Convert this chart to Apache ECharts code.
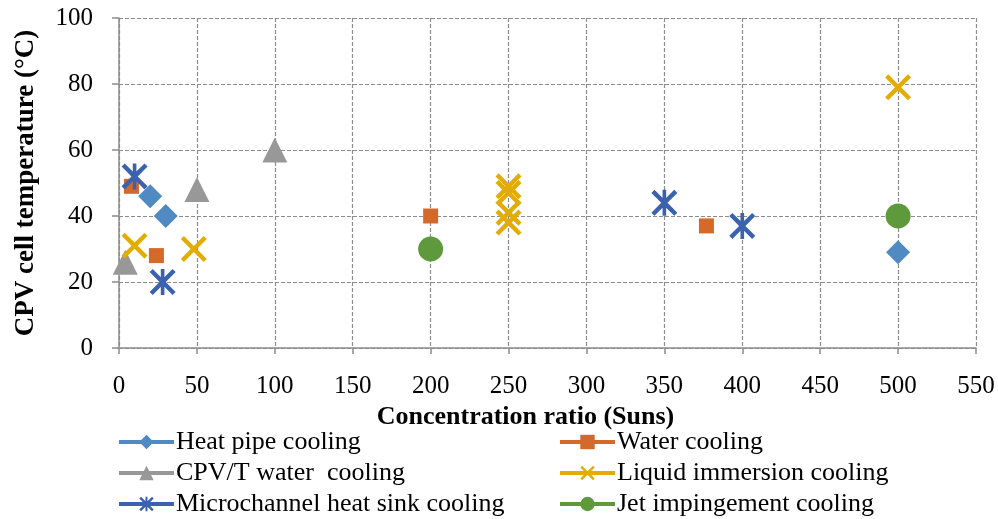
<!DOCTYPE html>
<html>
<head>
<meta charset="utf-8">
<script src="https://cdn.jsdelivr.net/npm/echarts@6/dist/echarts.min.js"></script>
<style>
  html, body { margin: 0; padding: 0; background: #fff; }
  #chart { width: 998px; height: 519px; }
</style>
</head>
<body>
<div id="chart"></div>
<script>
// Concentration ratio (Suns) vs CPV cell temperature (°C), grouped by cooling technique
const seriesNames = [
  'Heat pipe cooling',
  'Water cooling',
  'CPV/T water  cooling',
  'Liquid immersion cooling',
  'Microchannel heat sink cooling',
  'Jet impingement cooling'
];

const heatPipe = [[20, 46], [30, 40], [500, 29]];
const waterCooling = [[8, 49], [24, 28], [200, 40], [377, 37]];
const cpvtWater = [[4, 26], [50, 48], [100, 60]];
const liquidImmersion = [[10, 31], [48, 30], [250, 49], [250, 47], [250, 41], [250, 38], [500, 79]];
const microchannel = [[10, 52], [28, 20], [350, 44], [400, 37]];
const jetImpingement = [[200, 30], [500, 40]];

const xTicks = { min: 0, max: 550, interval: 50 };
const yTicks = { min: 0, max: 100, interval: 20 };

const xTitle = 'Concentration ratio (Suns)';
const yTitle = 'CPV cell temperature (°C)';

// Marker shapes
const crossPath = 'path://M0,12 L12,0 L50,38 L88,0 L100,12 L62,50 L100,88 L88,100 L50,62 L12,100 L0,88 L38,50 Z';
const starPath = 'path://M0,12 L12,0 L50,38 L88,0 L100,12 L62,50 L100,88 L88,100 L50,62 L12,100 L0,88 L38,50 Z M43,0 L57,0 L57,100 L43,100 Z';

const styles = [
  { data: heatPipe, color: '#4F8AC2', symbol: 'diamond', size: 24 },
  { data: waterCooling, color: '#D4692A', symbol: 'rect', size: 15 },
  { data: cpvtWater, color: '#989898', symbol: 'triangle', size: 25 },
  { data: liquidImmersion, color: '#E3AC05', symbol: crossPath, size: 26 },
  { data: microchannel, color: '#3B62AE', symbol: starPath, size: 26 },
  { data: jetImpingement, color: '#5E9A3C', symbol: 'circle', size: 25 }
];

const font = '"Liberation Serif", "Times New Roman", serif';

const series = styles.map((s, i) => ({
  name: seriesNames[i],
  type: 'line',
  data: s.data,
  symbol: s.symbol,
  symbolSize: s.size,
  showSymbol: true,
  showAllSymbol: true,
  color: s.color,
  itemStyle: { color: s.color, borderWidth: 0, opacity: 1 },
  lineStyle: { opacity: 0, width: 3, color: s.color },
  emphasis: { disabled: true },
  z: 3
}));

// Two-column legend, one block per entry
const legendCols = [117, 558];
const legendRows = [429, 460, 491];
const legends = seriesNames.map((name, i) => ({
  data: [name],
  left: legendCols[i % 2],
  top: legendRows[Math.floor(i / 2)],
  itemWidth: 55,
  itemHeight: 18,
  itemGap: 0,
  padding: 0,
  selectedMode: false,
  lineStyle: { opacity: 1, width: 4 },
  textStyle: { fontFamily: font, fontSize: 26, color: '#000', padding: [0, 0, 0, -3] }
}));

const chart = echarts.init(document.getElementById('chart'), null, { renderer: 'canvas' });
chart.setOption({
  animation: false,
  backgroundColor: '#fff',
  grid: { left: 119, right: 22, top: 18, bottom: 171, containLabel: false },
  legend: legends,
  xAxis: {
    type: 'value',
    min: xTicks.min, max: xTicks.max, interval: xTicks.interval,
    name: xTitle,
    nameLocation: 'middle',
    nameGap: 51,
    nameTextStyle: { fontFamily: font, fontSize: 26, fontWeight: 'bold', color: '#000', padding: [0, 44, 0, 0] },
    axisLine: { show: true, onZero: false, lineStyle: { color: '#8c8c8c', width: 1.5 } },
    axisTick: { show: true, length: 6, inside: false, lineStyle: { color: '#8c8c8c', width: 1.5 } },
    axisLabel: { fontFamily: font, fontSize: 25, color: '#000', margin: 26 },
    splitLine: { show: true, lineStyle: { color: '#8c8c8c', type: [4, 2], width: 1.2 } }
  },
  yAxis: {
    type: 'value',
    min: yTicks.min, max: yTicks.max, interval: yTicks.interval,
    name: yTitle,
    nameLocation: 'middle',
    nameGap: 79,
    nameTextStyle: { fontFamily: font, fontSize: 27, fontWeight: 'bold', color: '#000' },
    axisLine: { show: true, onZero: false, lineStyle: { color: '#8c8c8c', width: 1.5 } },
    axisTick: { show: true, length: 7, inside: false, lineStyle: { color: '#8c8c8c', width: 1.5 } },
    axisLabel: { fontFamily: font, fontSize: 25, color: '#000', margin: 26 },
    splitLine: { show: true, lineStyle: { color: '#8c8c8c', type: [4, 2], width: 1.2 } }
  },
  series: series
});
</script>
</body>
</html>
